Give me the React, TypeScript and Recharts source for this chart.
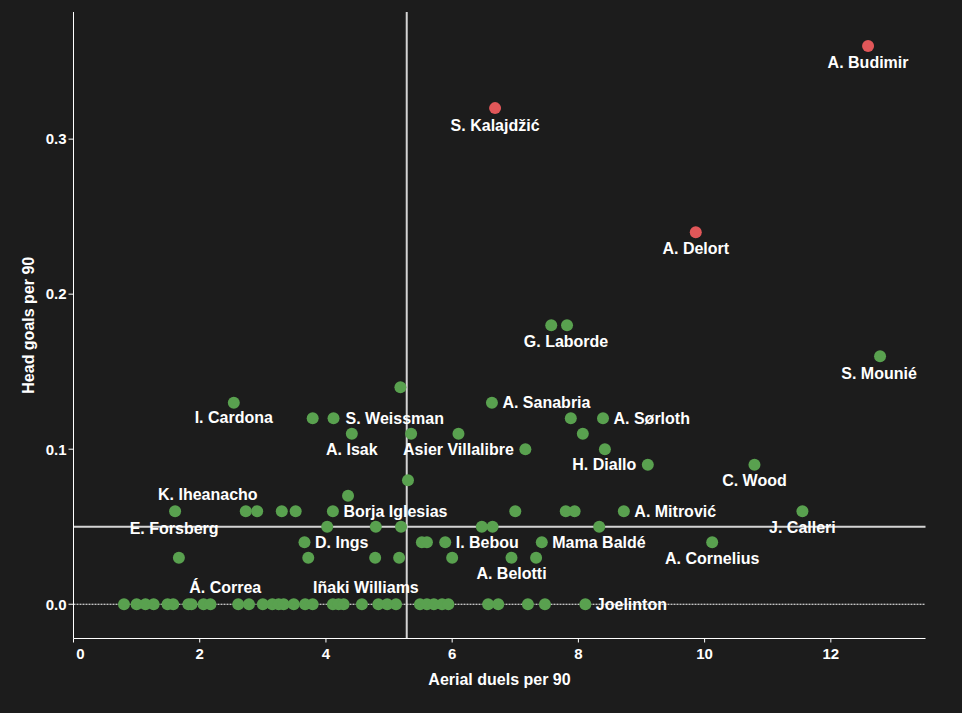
import React from 'react';
import { ScatterChart, Scatter, XAxis, YAxis, ReferenceLine } from 'recharts';

const xTicks = [0, 2, 4, 6, 8, 10, 12];
const yTicks = [0, 0.1, 0.2, 0.3];

const xAxisTitle = 'Aerial duels per 90';
const yAxisTitle = 'Head goals per 90';

const medianAerials = 5.28;
const medianHeadGoals = 0.05;

// Highlighted players (red)
const redNames = ['A. Budimir', 'S. Kalajdžić', 'A. Delort'];
const redAerials = [12.59, 6.68, 9.86];
const redHeadGoals = [0.36, 0.32, 0.24];

// Other players (green)
const greenAerials = [
  7.57, 7.82,
  12.78,
  5.18,
  2.54, 6.63,
  3.79, 4.12, 7.88, 8.39,
  4.41, 5.35, 6.10, 8.07,
  7.16, 8.42,
  9.10, 10.79,
  5.30,
  4.35,
  1.61, 2.73, 2.91, 3.30, 3.52, 4.11, 7.00, 7.80, 7.94, 8.72, 11.55,
  4.02, 4.79, 5.19, 6.47, 6.64, 8.33,
  3.66, 5.52, 5.60, 5.89, 7.42, 10.12,
  1.67, 3.72, 4.78, 5.16, 6.00, 6.94, 7.33,
  0.80, 1.00, 1.14, 1.27, 1.49, 1.58, 1.82, 1.87, 2.06, 2.17, 2.61, 2.78, 3.00, 3.15, 3.25, 3.33, 3.49, 3.67,
  3.79, 4.11, 4.20, 4.28, 4.57, 4.83, 4.97, 5.11, 5.49, 5.60, 5.71, 5.84, 5.94, 6.57, 6.73, 7.20, 7.47, 8.11,
];
const greenHeadGoals = [
  0.18, 0.18,
  0.16,
  0.14,
  0.13, 0.13,
  0.12, 0.12, 0.12, 0.12,
  0.11, 0.11, 0.11, 0.11,
  0.10, 0.10,
  0.09, 0.09,
  0.08,
  0.07,
  0.06, 0.06, 0.06, 0.06, 0.06, 0.06, 0.06, 0.06, 0.06, 0.06, 0.06,
  0.05, 0.05, 0.05, 0.05, 0.05, 0.05,
  0.04, 0.04, 0.04, 0.04, 0.04, 0.04,
  0.03, 0.03, 0.03, 0.03, 0.03, 0.03, 0.03,
  0, 0, 0, 0, 0, 0, 0, 0, 0, 0, 0, 0, 0, 0, 0, 0, 0, 0,
  0, 0, 0, 0, 0, 0, 0, 0, 0, 0, 0, 0, 0, 0, 0, 0, 0, 0,
];
const greenNames = [
  '', 'G. Laborde',
  'S. Mounié',
  '',
  'I. Cardona', 'A. Sanabria',
  '', 'S. Weissman', '', 'A. Sørloth',
  'A. Isak', '', '', '',
  'Asier Villalibre', '',
  'H. Diallo', 'C. Wood',
  '',
  '',
  'E. Forsberg', 'K. Iheanacho', '', '', '', 'Borja Iglesias', '', '', '', 'A. Mitrović', 'J. Calleri',
  '', '', '', '', '', '',
  'D. Ings', '', '', 'I. Bebou', 'Mama Baldé', 'A. Cornelius',
  '', '', '', '', '', 'A. Belotti', '',
  '', '', '', '', '', '', '', '', '', '', 'Á. Correa', '', '', '', '', '', '', '',
  '', '', '', '', 'Iñaki Williams', '', '', '', '', '', '', '', '', '', '', '', '', 'Joelinton',
];

// label placement relative to its point: [dx, dy (text centre), anchor]
const BELOW: [number, number, string] = [0, 16, 'middle'];
const RIGHT: [number, number, string] = [10.5, 0, 'start'];
const LEFT: [number, number, string] = [-11.5, 0, 'end'];
const labelPlacement: Record<string, [number, number, string]> = {
  'A. Budimir': BELOW,
  'S. Kalajdžić': [0, 17, 'middle'],
  'A. Delort': BELOW,
  'G. Laborde': [-1, 16, 'middle'],
  'S. Mounié': [-1, 17, 'middle'],
  'I. Cardona': [0, 15, 'middle'],
  'A. Sanabria': RIGHT,
  'S. Weissman': [12, 0, 'start'],
  'A. Sørloth': RIGHT,
  'A. Isak': BELOW,
  'Asier Villalibre': LEFT,
  'H. Diallo': LEFT,
  'C. Wood': BELOW,
  'E. Forsberg': [-1, 17, 'middle'],
  'K. Iheanacho': [-38, -17, 'middle'],
  'Borja Iglesias': RIGHT,
  'A. Mitrović': RIGHT,
  'J. Calleri': BELOW,
  'D. Ings': RIGHT,
  'I. Bebou': RIGHT,
  'Mama Baldé': RIGHT,
  'A. Cornelius': BELOW,
  'A. Belotti': BELOW,
  'Á. Correa': [-13, -17, 'middle'],
  'Iñaki Williams': [4, -17, 'middle'],
  'Joelinton': RIGHT,
};

const FONT = '"Liberation Sans", Arial, Helvetica, sans-serif';
const GREEN = '#59a14f';
const RED = '#e15759';
const BG = '#1c1c1c';

const greenData = greenAerials.map((x, i) => ({ x, y: greenHeadGoals[i], name: greenNames[i] }));
const redData = redAerials.map((x, i) => ({ x, y: redHeadGoals[i], name: redNames[i] }));
const labelData = [...greenData, ...redData].filter((d) => d.name);

const Dot = (color: string) => (props: any) => (
  <circle cx={props.cx} cy={props.cy} r={6} fill={color} />
);

const LabelShape = (props: any) => {
  const name = props.payload?.name ?? props.name;
  const p = labelPlacement[name] || BELOW;
  return (
    <text
      x={props.cx + p[0]}
      y={props.cy + p[1] + 5.6}
      textAnchor={p[2] as any}
      fill="#ffffff"
      fontFamily={FONT}
      fontWeight="bold"
      fontSize={16}
    >
      {name}
    </text>
  );
};

const XTick = (props: any) => {
  const v = props.payload.value;
  return (
    <text
      x={props.x + (v === 0 ? 7 : 0)}
      y={props.y}
      dy="0.71em"
      textAnchor="middle"
      fill="#ffffff"
      fontFamily={FONT}
      fontWeight="bold"
      fontSize={15}
    >
      {v}
    </text>
  );
};

const YTick = (props: any) => (
  <text
    x={props.x}
    y={props.y}
    dy="0.355em"
    textAnchor="end"
    fill="#ffffff"
    fontFamily={FONT}
    fontWeight="bold"
    fontSize={15}
  >
    {Number(props.payload.value).toFixed(1)}
  </text>
);

const XTitle = (props: any) => {
  const vb = props.viewBox || {};
  return (
    <text
      x={vb.x + vb.width / 2}
      y={685}
      textAnchor="middle"
      fill="#ffffff"
      fontFamily={FONT}
      fontWeight="bold"
      fontSize={16}
    >
      {xAxisTitle}
    </text>
  );
};

const YTitle = (props: any) => {
  const vb = props.viewBox || {};
  const cy = vb.y + vb.height / 2;
  return (
    <text
      x={34}
      y={cy}
      transform={`rotate(-90, 34, ${cy})`}
      textAnchor="middle"
      fill="#ffffff"
      fontFamily={FONT}
      fontWeight="bold"
      fontSize={16}
    >
      {yAxisTitle}
    </text>
  );
};

export default function App() {
  return (
    <div style={{ position: 'absolute', left: 0, top: 0, width: 962, height: 713, background: BG }}>
      <ScatterChart width={962} height={713} margin={{ top: 12, right: 36.5, bottom: 44.5, left: 13.5 }}>
        <XAxis
          type="number"
          dataKey="x"
          domain={[0, 13.5]}
          ticks={xTicks}
          allowDataOverflow
          stroke="#ffffff"
          axisLine={{ stroke: '#ffffff' }}
          tickLine={{ stroke: '#ffffff' }}
          tickSize={4}
          tickMargin={6}
          height={30}
          tick={XTick}
          label={<XTitle />}
        />
        <YAxis
          type="number"
          dataKey="y"
          domain={[-0.0221, 0.382]}
          ticks={yTicks}
          allowDataOverflow
          stroke="#ffffff"
          axisLine={{ stroke: '#ffffff' }}
          tickLine={{ stroke: '#ffffff' }}
          tickSize={5}
          tickMargin={2}
          width={60}
          tick={YTick}
          label={<YTitle />}
        />
        <ReferenceLine y={0} stroke="#ffffff" strokeWidth={1} strokeDasharray="2 1" />
        <ReferenceLine x={medianAerials} stroke="#d4d4d4" strokeWidth={2} />
        <ReferenceLine y={medianHeadGoals} stroke="#d4d4d4" strokeWidth={2} />
        <Scatter data={greenData} shape={Dot(GREEN)} isAnimationActive={false} />
        <Scatter data={redData} shape={Dot(RED)} isAnimationActive={false} />
        <Scatter data={labelData} shape={LabelShape} isAnimationActive={false} />
      </ScatterChart>
    </div>
  );
}
